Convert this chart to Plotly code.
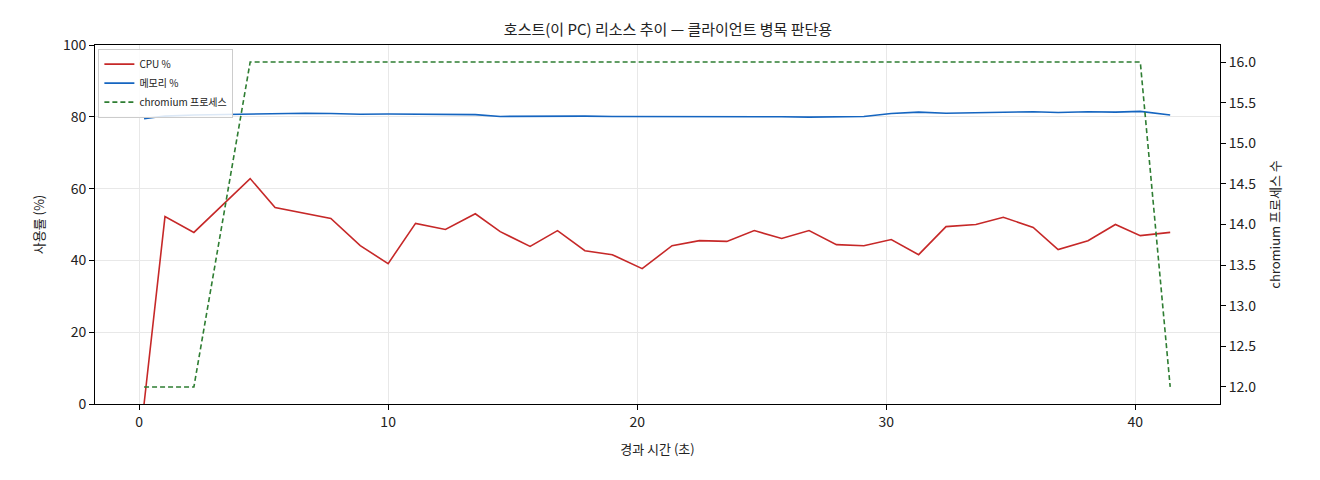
import plotly.graph_objects as go

t = [0.2,1.04,2.2,4.46,5.46,6.67,7.7,8.88,10.0,11.1,12.3,13.5,14.5,15.7,16.8,17.9,19.0,20.2,21.4,22.5,23.6,24.7,25.8,26.9,28.0,29.1,30.2,31.3,32.4,33.6,34.7,35.9,36.9,38.1,39.2,40.2,41.4]
cpu = [0,52.2,47.8,62.8,54.7,53,51.7,44.1,39.1,50.3,48.6,53,48,43.9,48.3,42.7,41.6,37.7,44.1,45.5,45.3,48.3,46.1,48.3,44.4,44.1,45.8,41.6,49.4,50,52,49.2,43,45.5,50,46.9,47.8]
mem = [79.5,80.2,80.5,80.8,80.9,81.0,80.9,80.7,80.8,80.8,80.7,80.6,80.1,80.2,80.2,80.2,80.1,80.1,80.1,80.2,80.1,80.1,80.0,79.9,80.0,80.1,80.9,81.3,81.0,81.2,81.3,81.4,81.2,81.4,81.3,81.5,80.5]
chrom = [12,12,12,16,16,16,16,16,16,16,16,16,16,16,16,16,16,16,16,16,16,16,16,16,16,16,16,16,16,16,16,16,16,16,16,16,12]

F = "Noto Sans CJK KR"
fig = go.Figure()
fig.add_trace(go.Scatter(x=t, y=cpu, mode="lines", name="CPU %", line=dict(color="#c62828", width=1.6)))
fig.add_trace(go.Scatter(x=t, y=mem, mode="lines", name="메모리 %", line=dict(color="#1565c0", width=1.6)))
fig.add_trace(go.Scatter(x=t, y=chrom, mode="lines", name="chromium 프로세스", yaxis="y2",
                         line=dict(color="#2e7d32", width=1.6, dash="5px,3px")))
ax = dict(showline=True, linecolor="black", ticks="outside", tickcolor="black",
          gridcolor="#e8e8e8", zeroline=False, tickfont=dict(size=14, color="#222"))
fig.update_layout(
    width=1320, height=480, margin=dict(l=87, r=108, t=37, b=84),
    paper_bgcolor="white", plot_bgcolor="white", font=dict(family=F, color="#222"),
    title=dict(text="호스트(이 PC) 리소스 추이 — 클라이언트 병목 판단용", x=0.5, xanchor="center", y=0.965, font=dict(size=15)),
    xaxis=dict(ax, range=[-1.77, 43.4], dtick=10, mirror=True,
               title=dict(text="경과 시간 (초)", font=dict(size=13))),
    yaxis=dict(ax, range=[0, 100], dtick=20, mirror=True,
               title=dict(text="사용률 (%)", font=dict(size=13))),
    yaxis2=dict(ax, overlaying="y", side="right", range=[11.79, 16.21], dtick=0.5, tickformat=".1f",
                showgrid=False, title=dict(text="chromium 프로세스 수", font=dict(size=13))),
    legend=dict(x=0.003, y=0.99, xanchor="left", yanchor="top", bgcolor="rgba(255,255,255,0.85)",
                bordercolor="#ccc", borderwidth=1, font=dict(size=10), tracegroupgap=0),
)
fig.write_html("out.html")
